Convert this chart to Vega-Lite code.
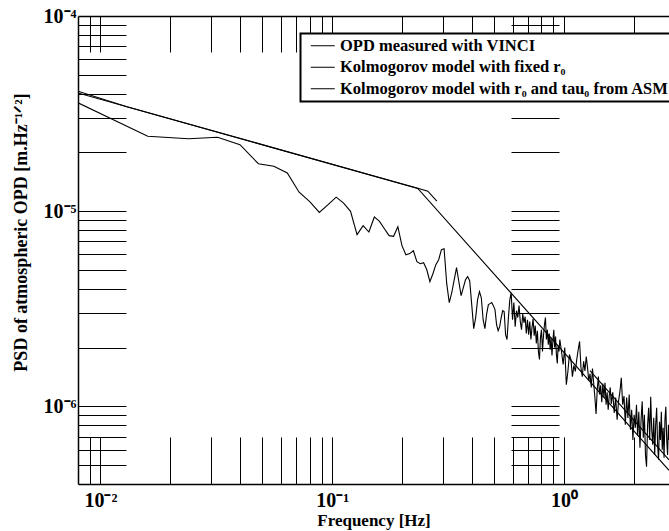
{
  "$schema": "https://vega.github.io/schema/vega-lite/v6.json",
  "width": 591,
  "height": 468,
  "autosize": {"type": "none"},
  "padding": {"left": 78, "top": 16, "right": 0, "bottom": 47},
  "background": "white",
  "config": {
    "view": {"stroke": null},
    "font": "Liberation Serif",
    "axis": {"grid": false, "labelFont": "Liberation Serif", "titleFont": "Liberation Serif", "labelColor": "black", "titleColor": "black", "tickColor": "black", "domainColor": "black", "labelFontWeight": "bold", "titleFontWeight": "bold", "labelFlush": false, "tickWidth": 1},
    "legend": {"strokeWidth": 2}
  },
  "datasets": {
    "psd": [
      {"s": "a", "g": 1, "f": 0.008, "v": 3.59e-5},
      {"s": "a", "g": 1, "f": 0.016, "v": 2.42e-5},
      {"s": "a", "g": 1, "f": 0.024, "v": 2.35e-5},
      {"s": "a", "g": 1, "f": 0.032, "v": 2.39e-5},
      {"s": "a", "g": 1, "f": 0.040, "v": 2.19e-5},
      {"s": "a", "g": 1, "f": 0.048, "v": 1.75e-5},
      {"s": "a", "g": 1, "f": 0.056, "v": 1.70e-5},
      {"s": "a", "g": 1, "f": 0.064, "v": 1.57e-5},
      {"s": "a", "g": 1, "f": 0.072, "v": 1.25e-5},
      {"s": "a", "g": 1, "f": 0.080, "v": 1.12e-5},
      {"s": "a", "g": 1, "f": 0.088, "v": 9.86e-6},
      {"s": "a", "g": 1, "f": 0.096, "v": 1.08e-5},
      {"s": "a", "g": 1, "f": 0.104, "v": 1.18e-5},
      {"s": "a", "g": 1, "f": 0.112, "v": 1.10e-5},
      {"s": "a", "g": 1, "f": 0.120, "v": 9.98e-6},
      {"s": "a", "g": 1, "f": 0.128, "v": 7.58e-6},
      {"s": "a", "g": 1, "f": 0.136, "v": 8.42e-6},
      {"s": "a", "g": 1, "f": 0.144, "v": 7.82e-6},
      {"s": "a", "g": 1, "f": 0.152, "v": 9.34e-6},
      {"s": "a", "g": 1, "f": 0.160, "v": 8.87e-6},
      {"s": "a", "g": 1, "f": 0.168, "v": 8.13e-6},
      {"s": "a", "g": 1, "f": 0.176, "v": 7.49e-6},
      {"s": "a", "g": 1, "f": 0.184, "v": 7.43e-6},
      {"s": "a", "g": 1, "f": 0.192, "v": 8.33e-6},
      {"s": "a", "g": 1, "f": 0.200, "v": 6.66e-6},
      {"s": "a", "g": 1, "f": 0.208, "v": 5.98e-6},
      {"s": "a", "g": 1, "f": 0.216, "v": 6.06e-6},
      {"s": "a", "g": 1, "f": 0.224, "v": 6.27e-6},
      {"s": "a", "g": 1, "f": 0.232, "v": 5.51e-6},
      {"s": "a", "g": 1, "f": 0.240, "v": 5.38e-6},
      {"s": "a", "g": 1, "f": 0.248, "v": 5.44e-6},
      {"s": "a", "g": 1, "f": 0.256, "v": 5.01e-6},
      {"s": "a", "g": 1, "f": 0.264, "v": 4.35e-6},
      {"s": "a", "g": 1, "f": 0.272, "v": 4.78e-6},
      {"s": "a", "g": 1, "f": 0.280, "v": 5.32e-6},
      {"s": "a", "g": 1, "f": 0.288, "v": 5.64e-6},
      {"s": "a", "g": 1, "f": 0.296, "v": 6.35e-6},
      {"s": "a", "g": 1, "f": 0.304, "v": 6.42e-6},
      {"s": "a", "g": 1, "f": 0.312, "v": 4.25e-6},
      {"s": "a", "g": 1, "f": 0.320, "v": 3.40e-6},
      {"s": "a", "g": 1, "f": 0.328, "v": 3.82e-6},
      {"s": "a", "g": 1, "f": 0.336, "v": 4.45e-6},
      {"s": "a", "g": 1, "f": 0.344, "v": 5.14e-6},
      {"s": "a", "g": 1, "f": 0.352, "v": 4.35e-6},
      {"s": "a", "g": 1, "f": 0.360, "v": 3.69e-6},
      {"s": "a", "g": 1, "f": 0.368, "v": 4.06e-6},
      {"s": "a", "g": 1, "f": 0.376, "v": 4.45e-6},
      {"s": "a", "g": 1, "f": 0.384, "v": 4.62e-6},
      {"s": "a", "g": 1, "f": 0.392, "v": 4.40e-6},
      {"s": "a", "g": 1, "f": 0.400, "v": 3.32e-6},
      {"s": "a", "g": 1, "f": 0.408, "v": 2.50e-6},
      {"s": "a", "g": 1, "f": 0.416, "v": 2.85e-6},
      {"s": "a", "g": 1, "f": 0.424, "v": 3.52e-6},
      {"s": "a", "g": 1, "f": 0.432, "v": 3.87e-6},
      {"s": "a", "g": 1, "f": 0.440, "v": 3.60e-6},
      {"s": "a", "g": 1, "f": 0.448, "v": 2.78e-6},
      {"s": "a", "g": 1, "f": 0.456, "v": 2.50e-6},
      {"s": "a", "g": 1, "f": 0.464, "v": 2.98e-6},
      {"s": "a", "g": 1, "f": 0.472, "v": 3.32e-6},
      {"s": "a", "g": 1, "f": 0.480, "v": 3.36e-6},
      {"s": "a", "g": 1, "f": 0.488, "v": 3.40e-6},
      {"s": "a", "g": 1, "f": 0.496, "v": 3.28e-6},
      {"s": "a", "g": 1, "f": 0.504, "v": 3.13e-6},
      {"s": "a", "g": 1, "f": 0.512, "v": 2.62e-6},
      {"s": "a", "g": 1, "f": 0.520, "v": 2.44e-6},
      {"s": "a", "g": 1, "f": 0.528, "v": 2.56e-6},
      {"s": "a", "g": 1, "f": 0.536, "v": 2.85e-6},
      {"s": "a", "g": 1, "f": 0.544, "v": 3.09e-6},
      {"s": "a", "g": 1, "f": 0.552, "v": 3.06e-6},
      {"s": "a", "g": 1, "f": 0.560, "v": 2.33e-6},
      {"s": "a", "g": 1, "f": 0.568, "v": 2.20e-6},
      {"s": "a", "g": 1, "f": 0.576, "v": 2.85e-6},
      {"s": "a", "g": 1, "f": 0.584, "v": 3.52e-6},
      {"s": "a", "g": 1, "f": 0.592, "v": 3.82e-6},
      {"s": "a", "g": 1, "f": 0.600, "v": 2.78e-6},
      {"s": "a", "g": 1, "f": 0.608, "v": 3.40e-6},
      {"s": "a", "g": 1, "f": 0.616, "v": 2.56e-6},
      {"s": "a", "g": 1, "f": 0.624, "v": 3.09e-6},
      {"s": "a", "g": 1, "f": 0.632, "v": 2.85e-6},
      {"s": "a", "g": 1, "f": 0.640, "v": 3.28e-6},
      {"s": "a", "g": 1, "f": 0.648, "v": 2.72e-6},
      {"s": "a", "g": 1, "f": 0.656, "v": 2.47e-6},
      {"s": "a", "g": 1, "f": 0.664, "v": 2.98e-6},
      {"s": "a", "g": 1, "f": 0.672, "v": 2.68e-6},
      {"s": "a", "g": 1, "f": 0.680, "v": 2.88e-6},
      {"s": "a", "g": 1, "f": 0.688, "v": 2.36e-6},
      {"s": "a", "g": 1, "f": 0.696, "v": 2.78e-6},
      {"s": "a", "g": 1, "f": 0.704, "v": 2.33e-6},
      {"s": "a", "g": 1, "f": 0.712, "v": 2.72e-6},
      {"s": "a", "g": 1, "f": 0.720, "v": 2.20e-6},
      {"s": "a", "g": 1, "f": 0.728, "v": 2.53e-6},
      {"s": "a", "g": 1, "f": 0.736, "v": 2.81e-6},
      {"s": "a", "g": 1, "f": 0.744, "v": 2.30e-6},
      {"s": "a", "g": 1, "f": 0.752, "v": 2.59e-6},
      {"s": "a", "g": 1, "f": 0.760, "v": 2.10e-6},
      {"s": "a", "g": 1, "f": 0.768, "v": 2.44e-6},
      {"s": "a", "g": 1, "f": 0.776, "v": 1.91e-6},
      {"s": "a", "g": 1, "f": 0.784, "v": 1.74e-6},
      {"s": "a", "g": 1, "f": 0.792, "v": 2.25e-6},
      {"s": "a", "g": 1, "f": 0.800, "v": 2.47e-6},
      {"s": "a", "g": 1, "f": 0.808, "v": 1.91e-6},
      {"s": "a", "g": 1, "f": 0.816, "v": 2.30e-6},
      {"s": "a", "g": 1, "f": 0.824, "v": 2.62e-6},
      {"s": "a", "g": 1, "f": 0.832, "v": 2.85e-6},
      {"s": "a", "g": 1, "f": 0.840, "v": 2.20e-6},
      {"s": "a", "g": 1, "f": 0.848, "v": 2.47e-6},
      {"s": "a", "g": 1, "f": 0.856, "v": 2.07e-6},
      {"s": "a", "g": 1, "f": 0.864, "v": 2.36e-6},
      {"s": "a", "g": 1, "f": 0.872, "v": 1.95e-6},
      {"s": "a", "g": 1, "f": 0.880, "v": 2.25e-6},
      {"s": "a", "g": 1, "f": 0.888, "v": 1.82e-6},
      {"s": "a", "g": 1, "f": 0.896, "v": 2.17e-6},
      {"s": "a", "g": 1, "f": 0.904, "v": 2.47e-6},
      {"s": "a", "g": 1, "f": 0.912, "v": 2.00e-6},
      {"s": "a", "g": 1, "f": 0.920, "v": 2.28e-6},
      {"s": "a", "g": 1, "f": 0.928, "v": 1.84e-6},
      {"s": "a", "g": 1, "f": 0.936, "v": 1.66e-6},
      {"s": "a", "g": 1, "f": 0.944, "v": 2.05e-6},
      {"s": "a", "g": 1, "f": 0.952, "v": 1.91e-6},
      {"s": "a", "g": 1, "f": 0.960, "v": 2.20e-6},
      {"s": "a", "g": 1, "f": 0.976, "v": 1.91e-6},
      {"s": "a", "g": 1, "f": 0.992, "v": 1.64e-6},
      {"s": "a", "g": 1, "f": 1.008, "v": 2.00e-6},
      {"s": "a", "g": 1, "f": 1.024, "v": 1.29e-6},
      {"s": "a", "g": 1, "f": 1.040, "v": 1.51e-6},
      {"s": "a", "g": 1, "f": 1.056, "v": 1.84e-6},
      {"s": "a", "g": 1, "f": 1.072, "v": 1.74e-6},
      {"s": "a", "g": 1, "f": 1.088, "v": 1.42e-6},
      {"s": "a", "g": 1, "f": 1.104, "v": 1.62e-6},
      {"s": "a", "g": 1, "f": 1.120, "v": 1.51e-6},
      {"s": "a", "g": 1, "f": 1.136, "v": 1.74e-6},
      {"s": "a", "g": 1, "f": 1.152, "v": 1.95e-6},
      {"s": "a", "g": 1, "f": 1.168, "v": 2.15e-6},
      {"s": "a", "g": 1, "f": 1.184, "v": 1.58e-6},
      {"s": "a", "g": 1, "f": 1.200, "v": 1.42e-6},
      {"s": "a", "g": 1, "f": 1.216, "v": 1.70e-6},
      {"s": "a", "g": 1, "f": 1.232, "v": 1.52e-6},
      {"s": "a", "g": 1, "f": 1.248, "v": 1.80e-6},
      {"s": "a", "g": 1, "f": 1.264, "v": 1.58e-6},
      {"s": "a", "g": 1, "f": 1.280, "v": 1.35e-6},
      {"s": "a", "g": 1, "f": 1.296, "v": 1.47e-6},
      {"s": "a", "g": 1, "f": 1.312, "v": 1.25e-6},
      {"s": "a", "g": 1, "f": 1.328, "v": 1.56e-6},
      {"s": "a", "g": 1, "f": 1.344, "v": 1.31e-6},
      {"s": "a", "g": 1, "f": 1.360, "v": 1.11e-6},
      {"s": "a", "g": 1, "f": 1.376, "v": 9.15e-7},
      {"s": "a", "g": 1, "f": 1.392, "v": 1.22e-6},
      {"s": "a", "g": 1, "f": 1.408, "v": 1.42e-6},
      {"s": "a", "g": 1, "f": 1.424, "v": 1.15e-6},
      {"s": "a", "g": 1, "f": 1.440, "v": 1.28e-6},
      {"s": "a", "g": 1, "f": 1.456, "v": 1.05e-6},
      {"s": "a", "g": 1, "f": 1.472, "v": 1.31e-6},
      {"s": "a", "g": 1, "f": 1.488, "v": 1.11e-6},
      {"s": "a", "g": 1, "f": 1.504, "v": 1.32e-6},
      {"s": "a", "g": 1, "f": 1.520, "v": 1.02e-6},
      {"s": "a", "g": 1, "f": 1.536, "v": 1.18e-6},
      {"s": "a", "g": 1, "f": 1.552, "v": 9.60e-7},
      {"s": "a", "g": 1, "f": 1.568, "v": 1.13e-6},
      {"s": "a", "g": 1, "f": 1.584, "v": 1.25e-6},
      {"s": "a", "g": 1, "f": 1.600, "v": 1.03e-6},
      {"s": "a", "g": 1, "f": 1.624, "v": 1.18e-6},
      {"s": "a", "g": 1, "f": 1.648, "v": 9.26e-7},
      {"s": "a", "g": 1, "f": 1.672, "v": 1.11e-6},
      {"s": "a", "g": 1, "f": 1.696, "v": 8.53e-7},
      {"s": "a", "g": 1, "f": 1.720, "v": 1.06e-6},
      {"s": "a", "g": 1, "f": 1.744, "v": 1.19e-6},
      {"s": "a", "g": 1, "f": 1.768, "v": 1.40e-6},
      {"s": "a", "g": 1, "f": 1.792, "v": 1.02e-6},
      {"s": "a", "g": 1, "f": 1.816, "v": 1.13e-6},
      {"s": "a", "g": 1, "f": 1.840, "v": 8.04e-7},
      {"s": "a", "g": 1, "f": 1.864, "v": 1.11e-6},
      {"s": "a", "g": 1, "f": 1.888, "v": 8.73e-7},
      {"s": "a", "g": 1, "f": 1.912, "v": 1.15e-6},
      {"s": "a", "g": 1, "f": 1.936, "v": 7.58e-7},
      {"s": "a", "g": 1, "f": 1.960, "v": 9.60e-7},
      {"s": "a", "g": 1, "f": 1.984, "v": 6.73e-7},
      {"s": "a", "g": 1, "f": 2.008, "v": 9.05e-7},
      {"s": "a", "g": 1, "f": 2.032, "v": 7.76e-7},
      {"s": "a", "g": 1, "f": 2.056, "v": 1.02e-6},
      {"s": "a", "g": 1, "f": 2.080, "v": 7.06e-7},
      {"s": "a", "g": 1, "f": 2.104, "v": 9.37e-7},
      {"s": "a", "g": 1, "f": 2.128, "v": 6.13e-7},
      {"s": "a", "g": 1, "f": 2.152, "v": 8.53e-7},
      {"s": "a", "g": 1, "f": 2.176, "v": 1.06e-6},
      {"s": "a", "g": 1, "f": 2.200, "v": 6.90e-7},
      {"s": "a", "g": 1, "f": 2.224, "v": 9.05e-7},
      {"s": "a", "g": 1, "f": 2.248, "v": 5.64e-7},
      {"s": "a", "g": 1, "f": 2.272, "v": 4.90e-7},
      {"s": "a", "g": 1, "f": 2.296, "v": 8.04e-7},
      {"s": "a", "g": 1, "f": 2.320, "v": 9.82e-7},
      {"s": "a", "g": 1, "f": 2.344, "v": 6.73e-7},
      {"s": "a", "g": 1, "f": 2.368, "v": 1.12e-6},
      {"s": "a", "g": 1, "f": 2.392, "v": 7.58e-7},
      {"s": "a", "g": 1, "f": 2.416, "v": 6.35e-7},
      {"s": "a", "g": 1, "f": 2.440, "v": 8.73e-7},
      {"s": "a", "g": 1, "f": 2.464, "v": 5.64e-7},
      {"s": "a", "g": 1, "f": 2.488, "v": 8.04e-7},
      {"s": "a", "g": 1, "f": 2.512, "v": 9.82e-7},
      {"s": "a", "g": 1, "f": 2.536, "v": 6.35e-7},
      {"s": "a", "g": 1, "f": 2.560, "v": 5.32e-7},
      {"s": "a", "g": 1, "f": 2.584, "v": 8.33e-7},
      {"s": "a", "g": 1, "f": 2.608, "v": 6.73e-7},
      {"s": "a", "g": 1, "f": 2.632, "v": 9.37e-7},
      {"s": "a", "g": 1, "f": 2.656, "v": 5.99e-7},
      {"s": "a", "g": 1, "f": 2.680, "v": 7.76e-7},
      {"s": "a", "g": 1, "f": 2.704, "v": 5.45e-7},
      {"s": "a", "g": 1, "f": 2.728, "v": 8.53e-7},
      {"s": "a", "g": 1, "f": 2.752, "v": 9.94e-7},
      {"s": "a", "g": 1, "f": 2.776, "v": 6.73e-7},
      {"s": "a", "g": 1, "f": 2.800, "v": 5.64e-7},
      {"s": "a", "g": 1, "f": 2.824, "v": 8.04e-7},
      {"s": "a", "g": 1, "f": 2.840, "v": 6.73e-7},
      {"s": "b", "g": 2, "f": 0.008, "v": 4.03e-5},
      {"s": "b", "g": 2, "f": 0.234, "v": 1.308e-5},
      {"s": "b", "g": 2, "f": 2.84, "v": 4.70e-7},
      {"s": "c", "g": 3, "f": 0.008, "v": 4.12e-5},
      {"s": "c", "g": 3, "f": 0.013, "v": 3.43e-5},
      {"s": "c", "g": 3, "f": 0.234, "v": 1.31e-5},
      {"s": "c", "g": 3, "f": 0.2586, "v": 1.266e-5},
      {"s": "c", "g": 3, "f": 0.2828, "v": 1.125e-5},
      {"s": "c", "g": 4, "f": 1.295, "v": 1.524e-6},
      {"s": "c", "g": 4, "f": 2.84, "v": 5.32e-7}
    ]
  },
  "data": {"name": "psd"},
  "resolve": {"axis": {"x": "independent", "y": "independent"}},
  "layer": [
    {
      "mark": {"type": "point", "opacity": 0},
      "encoding": {
        "x": {"field": "f", "type": "quantitative", "scale": {"type": "log", "domain": [0.008, 2.84], "nice": false, "zero": false},
          "axis": {"orient": "bottom", "offset": -468, "tickSize": 36, "values": [0.009, 0.01, 0.02, 0.03, 0.04, 0.05, 0.06, 0.07, 0.08, 0.09, 0.1, 0.2, 0.3, 0.4, 0.5, 0.6, 0.7, 0.8, 0.9, 1, 2], "labels": false, "domain": true, "domainWidth": 1.5, "title": null}},
        "y": {"field": "v", "type": "quantitative", "scale": {"type": "log", "domain": [4e-7, 1e-4], "nice": false, "zero": false},
          "axis": {"orient": "right", "offset": -591, "tickSize": 48, "values": [5e-7, 6e-7, 7e-7, 8e-7, 9e-7, 1e-6, 2e-6, 3e-6, 4e-6, 5e-6, 6e-6, 7e-6, 8e-6, 9e-6, 1e-5, 2e-5, 3e-5, 4e-5, 5e-5, 6e-5, 7e-5, 8e-5, 9e-5], "labels": false, "domain": false, "title": null}}
      }
    },
    {
      "mark": {"type": "point", "opacity": 0},
      "encoding": {
        "x": {"field": "f", "type": "quantitative",
          "axis": {"orient": "top", "offset": -468, "tickSize": 47, "values": [0.009, 0.01, 0.02, 0.03, 0.04, 0.05, 0.06, 0.07, 0.08, 0.09, 0.1, 0.2, 0.3, 0.4, 0.5, 0.6, 0.7, 0.8, 0.9, 1, 2], "labels": false, "domain": false, "title": null}},
        "y": {"field": "v", "type": "quantitative",
          "axis": {"orient": "right", "offset": -158, "tickSize": 48, "values": [5e-7, 6e-7, 7e-7, 8e-7, 9e-7, 1e-6, 2e-6, 3e-6, 4e-6, 5e-6, 6e-6, 7e-6, 8e-6, 9e-6, 1e-5, 2e-5, 3e-5, 4e-5, 5e-5, 6e-5, 7e-5, 8e-5, 9e-5], "labels": false, "domain": false, "title": null}}
      }
    },
    {
      "mark": {"type": "line", "clip": true, "strokeWidth": 1.1},
      "encoding": {
        "x": {"field": "f", "type": "quantitative",
          "axis": {"orient": "bottom", "values": [0.01, 0.1, 1], "ticks": false, "domain": true, "domainWidth": 1.5, "labelFontSize": 20, "labelPadding": 6,
            "labelExpr": "datum.value < 0.05 ? '10⁻²' : datum.value < 0.5 ? '10⁻¹' : '10⁰'",
            "title": "Frequency [Hz]", "titleFontSize": 17, "titleY": 28, "titleBaseline": "top"}},
        "y": {"field": "v", "type": "quantitative",
          "axis": {"orient": "left", "values": [1e-6, 1e-5, 1e-4], "ticks": false, "domain": true, "domainWidth": 1.5, "labelFontSize": 20, "labelPadding": 2,
            "labelExpr": "datum.value < 5e-6 ? '10⁻⁶' : datum.value < 5e-5 ? '10⁻⁵' : '10⁻⁴'",
            "title": "PSD of atmospheric OPD [m.Hz⁻¹ᐟ²]", "titleFontSize": 18, "titleAngle": 270, "titleBaseline": "bottom", "titleAlign": "center", "titleX": -48, "titleY": 216}},
        "detail": {"field": "g", "type": "nominal"},
        "color": {"field": "s", "type": "nominal",
          "scale": {"domain": ["a", "b", "c"], "range": ["black", "black", "black"]},
          "legend": {"orient": "none", "legendX": 222.5, "legendY": 17.5, "title": null, "symbolType": "M-2,0H2", "symbolSize": 144, "symbolStrokeWidth": 1, "symbolOffset": 10,
            "labelFont": "Liberation Serif", "labelFontSize": 16.5, "labelFontWeight": "bold", "labelColor": "black", "labelLimit": 800, "labelOffset": 9,
            "labelExpr": "(datum.label == 'a' ? 'OPD measured with VINCI' : datum.label == 'b' ? 'Kolmogorov model with fixed r₀' : 'Kolmogorov model with r₀ and tau₀ from ASM') + '                    '",
            "strokeColor": "black", "fillColor": "white", "padding": 4, "rowPadding": 4.5}}
      }
    }
  ]
}
